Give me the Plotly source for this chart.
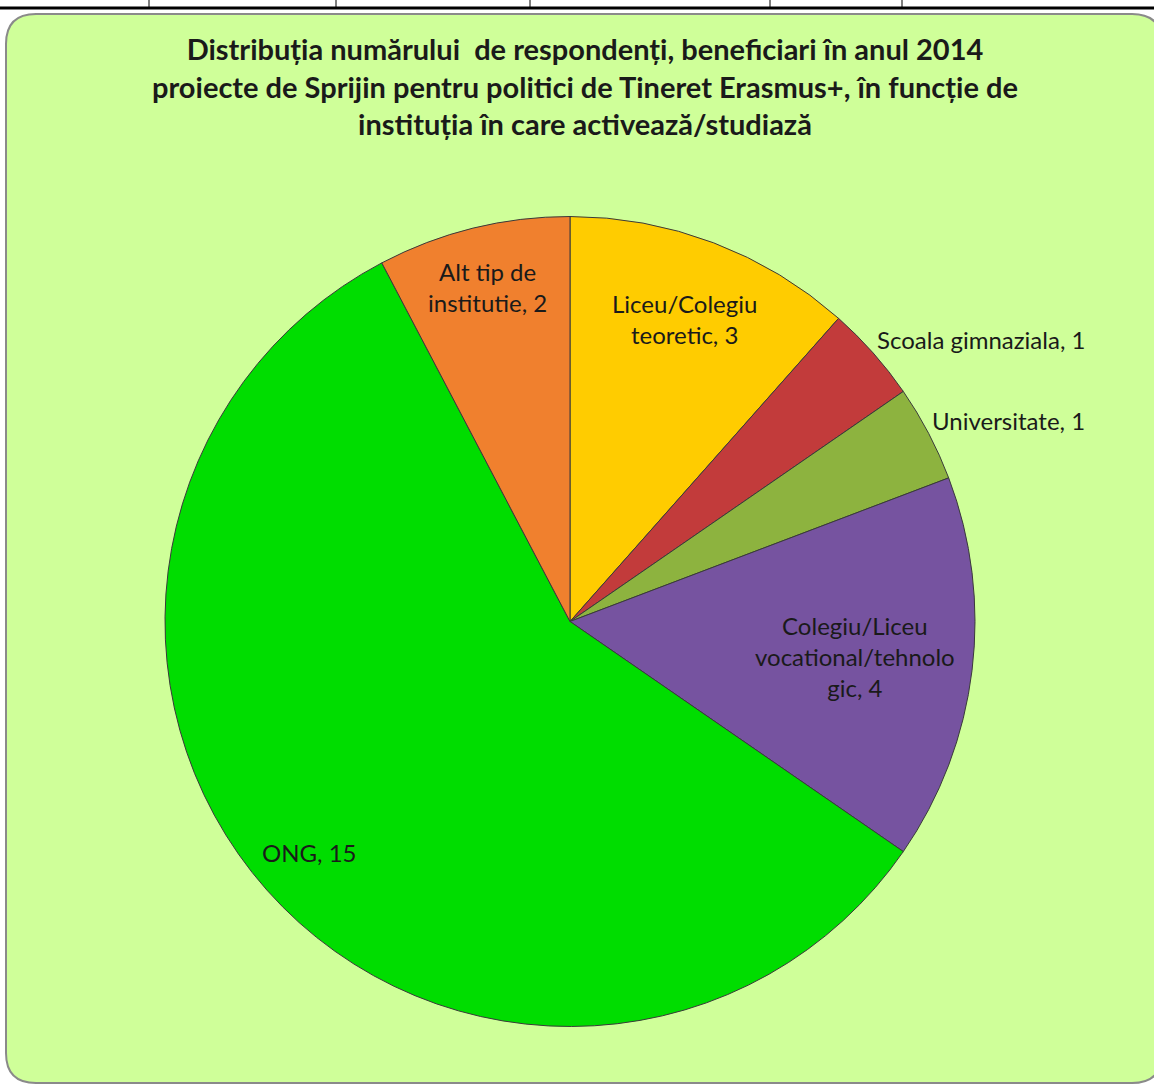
import math
import plotly.graph_objects as go

labels = ["Liceu/Colegiu teoretic", "Scoala gimnaziala", "Universitate",
          "Colegiu/Liceu vocational/tehnologic", "ONG", "Alt tip de institutie"]
values = [3, 1, 1, 4, 15, 2]
label_text = ["Liceu/Colegiu<br>teoretic, 3", "Scoala gimnaziala, 1", "Universitate, 1",
              "Colegiu/Liceu<br>vocational/tehnolo<br>gic, 4", "ONG, 15", "Alt tip de<br>institutie, 2"]
colors = ["#FFCC00", "#C23B3B", "#8DB33F", "#7653A0", "#00DD00", "#F0802E"]

W, H = 1154, 1086
CX, CY, R = 570, 621.5, 405  # pixel centre (from top) and radius
FONT = "Lato, Open Sans, sans-serif"

fig = go.Figure(go.Pie(
    labels=labels, values=values, sort=False, direction="clockwise", rotation=0,
    marker=dict(colors=colors, line=dict(color="#3a3a3a", width=1)),
    textinfo="none", hoverinfo="label+value", showlegend=False,
    domain=dict(x=[(CX - R) / W, (CX + R) / W],
                y=[(H - CY - R) / H, (H - CY + R) / H]),
))

# label positions derived from slice mid-angles
radial = [0.80, None, None, 0.71, 0.86, 0.85]
total = sum(values)
cum = 0
annotations = []
for i, v in enumerate(values):
    mid = (cum + v / 2) / total * 2 * math.pi
    cum += v
    inside = radial[i] is not None
    f = radial[i] if inside else 1.005
    px = CX + R * f * math.sin(mid)
    py = CY - R * f * math.cos(mid)
    annotations.append(dict(x=px / W, y=1 - py / H, xref="paper", yref="paper",
                            text=label_text[i], showarrow=False,
                            xanchor="center" if inside else "left",
                            yanchor="middle", yshift=0 if inside else 12,
                            font=dict(family=FONT, size=24, color="#1a1a1a")))

title_text = ("<b>Distribuția numărului  de respondenți, beneficiari în anul 2014</b><br>"
              "<b>proiecte de Sprijin pentru politici de Tineret Erasmus+, în funcție de</b><br>"
              "<b>instituția în care activează/studiază</b>")
annotations.append(dict(x=585 / W, y=1 - 86 / H, xref="paper", yref="paper", text=title_text,
                        showarrow=False, xanchor="center", yanchor="middle", align="center",
                        font=dict(family=FONT, size=29, color="#1a1a1a")))

# rounded background panel
x0, y0, x1, y1, rr = 6, 14, 1162, 1083, 30
def px2(x, y):
    return f"{x / W:.5f},{1 - y / H:.5f}"
path = (f"M {px2(x0 + rr, y0)} L {px2(x1 - rr, y0)} Q {px2(x1, y0)} {px2(x1, y0 + rr)} "
        f"L {px2(x1, y1 - rr)} Q {px2(x1, y1)} {px2(x1 - rr, y1)} "
        f"L {px2(x0 + rr, y1)} Q {px2(x0, y1)} {px2(x0, y1 - rr)} "
        f"L {px2(x0, y0 + rr)} Q {px2(x0, y0)} {px2(x0 + rr, y0)} Z")
shapes = [dict(type="path", path=path, xref="paper", yref="paper",
               fillcolor="#CFFF99", line=dict(color="#8a8a8a", width=2), layer="below")]

# table strip at the top
shapes.append(dict(type="line", xref="paper", yref="paper", x0=0, x1=1,
                   y0=1 - 8 / H, y1=1 - 8 / H, line=dict(color="black", width=3)))
for vx in [149, 336, 530, 770, 902]:
    shapes.append(dict(type="line", xref="paper", yref="paper", x0=vx / W, x1=vx / W,
                       y0=1, y1=1 - 8 / H, line=dict(color="black", width=1)))

fig.update_layout(width=W, height=H, margin=dict(l=0, r=0, t=0, b=0),
                  paper_bgcolor="white", plot_bgcolor="white",
                  annotations=annotations, shapes=shapes)
fig.write_html("out.html", config={"displayModeBar": False},
               post_script="document.body.style.margin='0px';document.body.style.overflow='hidden';")
